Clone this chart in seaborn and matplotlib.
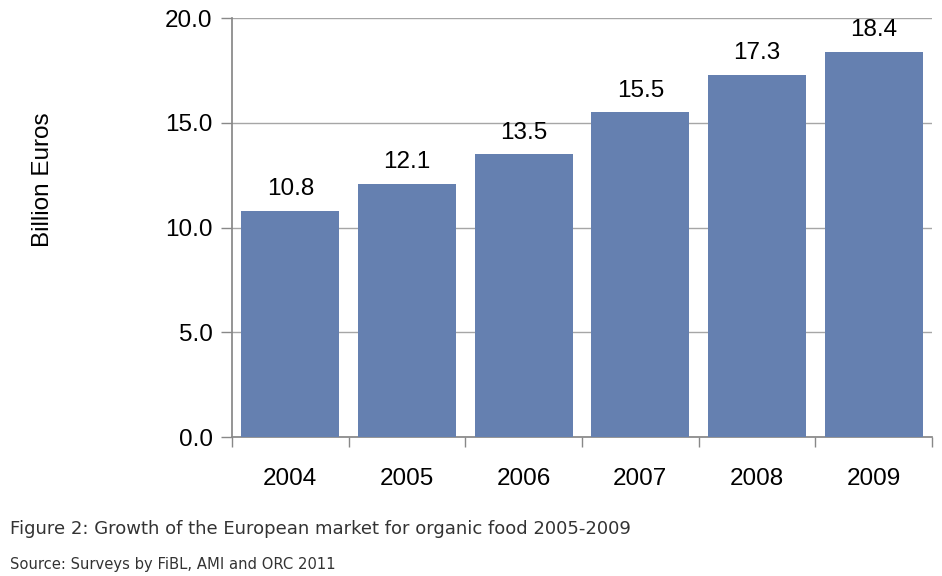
import matplotlib.pyplot as plt
import numpy as np
import pandas as pd
import seaborn as sns

years = ['2004', '2005', '2006', '2007', '2008', '2009']
sales = [10.8, 12.1, 13.5, 15.5, 17.3, 18.4]

sns.set_theme(style='white')
plt.rcParams['font.family'] = ['Liberation Sans', 'DejaVu Sans']

df = pd.DataFrame({'Year': years, 'Billion Euros': sales})

fig = plt.figure(figsize=(9.42, 5.76), dpi=100)
ax = fig.add_axes([0.2463, 0.2413, 0.7431, 0.7274])

sns.barplot(data=df, x='Year', y='Billion Euros', color='#6580b0', saturation=1,
            width=0.84, linewidth=0, ax=ax, zorder=3)

# value labels above the bars
for i, v in enumerate(sales):
    ax.text(i, v + 0.5, f'{v:.1f}', ha='center', va='bottom', fontsize=17.5, color='black')

ticks = np.arange(0, 20.1, 5)
ax.set_ylim(0, 20)
ax.set_xlim(-0.5, len(years) - 0.5)
ax.set_yticks(ticks)
ax.set_yticklabels([f'{t:.1f}' for t in ticks])
ax.tick_params(axis='y', length=8, width=1, color='#888888', pad=6, left=True,
               labelsize=17.5, labelcolor='black')
ax.tick_params(axis='x', which='major', length=0, pad=22, labelsize=17.5, labelcolor='black')
ax.set_xticks(np.arange(-0.5, len(years)), minor=True)
ax.tick_params(axis='x', which='minor', length=7, width=1, color='#888888', bottom=True)
ax.yaxis.grid(True, color='#a6a6a6', linewidth=1, zorder=0)

for s in ['top', 'right']:
    ax.spines[s].set_visible(False)
ax.spines['left'].set_color('#888888')
ax.spines['bottom'].set_color('#888888')

ax.set_xlabel('')
ax.set_ylabel('Billion Euros', fontsize=17.5, color='black')
ax.yaxis.set_label_coords(-0.255, 0.613)

fig.text(0.011, 0.082, 'Figure 2: Growth of the European market for organic food 2005-2009',
         fontsize=13, color='#333333', family=['DejaVu Sans'], va='center')
fig.text(0.011, 0.02, 'Source: Surveys by FiBL, AMI and ORC 2011',
         fontsize=10.6, color='#333333', family=['DejaVu Sans'], va='center')

fig.savefig('out.png', dpi=100)
